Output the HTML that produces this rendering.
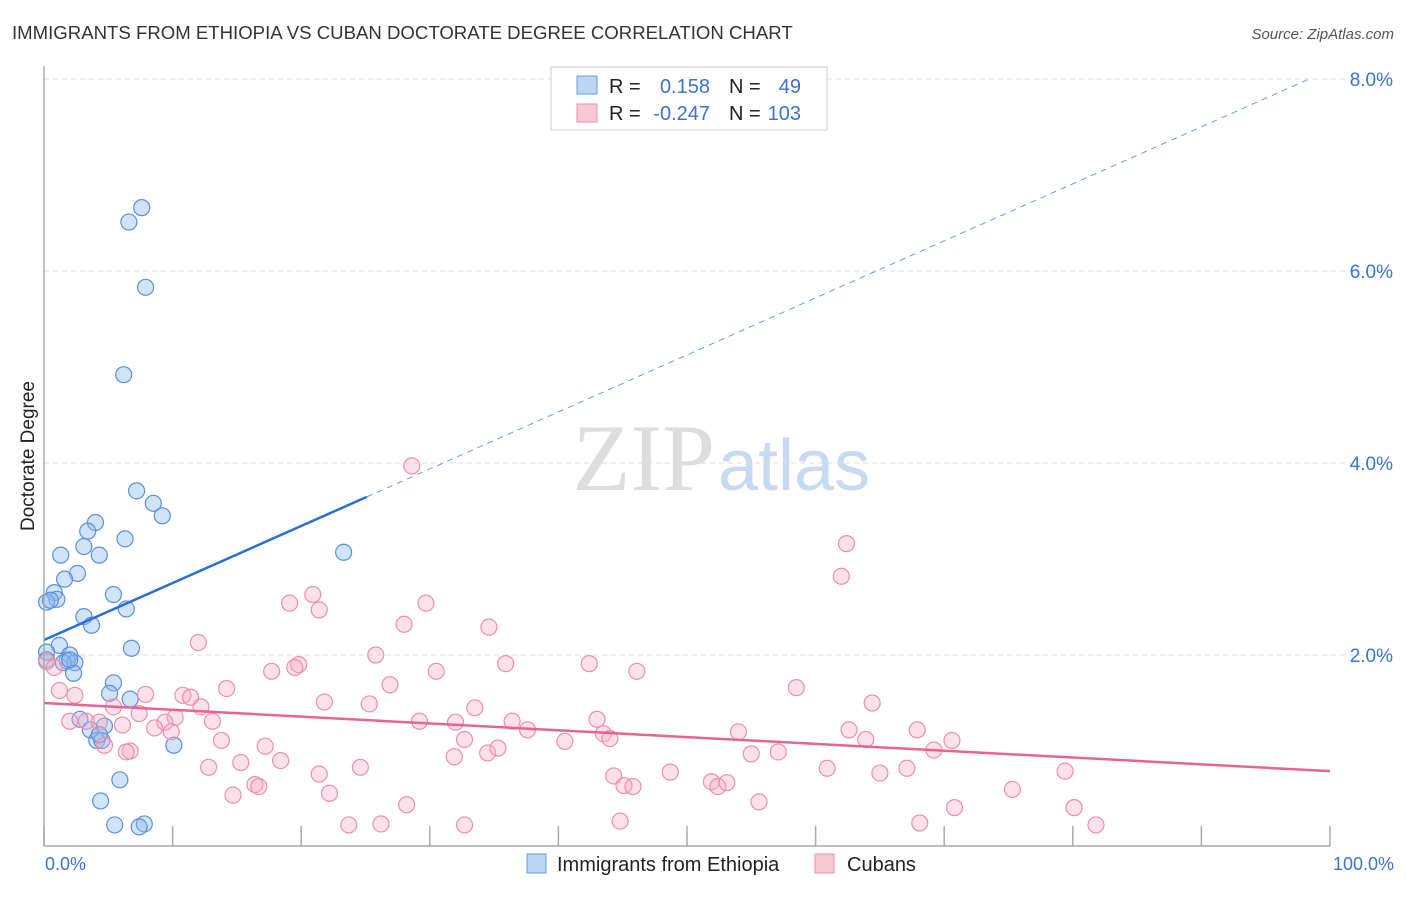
<!DOCTYPE html>
<html><head><meta charset="utf-8"><style>
body{margin:0;background:#fff;font-family:"Liberation Sans",sans-serif;}
</style></head><body>
<svg width="1406" height="892" xmlns="http://www.w3.org/2000/svg" id="svg">
<text x="12" y="39" font-size="18.6" fill="#333">IMMIGRANTS FROM ETHIOPIA VS CUBAN DOCTORATE DEGREE CORRELATION CHART</text>
<text x="1394" y="39" font-size="15" fill="#555" font-style="italic" text-anchor="end">Source: ZipAtlas.com</text>
<text x="34" y="456" font-size="19" fill="#222" text-anchor="middle" transform="rotate(-90 34 456)">Doctorate Degree</text>
<text x="715" y="490" font-size="95" fill="#ddd" text-anchor="end" font-family="Liberation Serif">ZIP</text>
<text x="718" y="490" font-size="72" fill="#c8daf2">atlas</text>
<g id="grid"></g><g id="pts"></g><g id="lines"></g>
<line x1="44" y1="66" x2="44" y2="846" stroke="#aaa" stroke-width="1.5"/>
<line x1="44" y1="846" x2="1330" y2="846" stroke="#aaa" stroke-width="1.5"/>
<text x="45" y="870" font-size="18" fill="#3a73d0">0.0%</text>
<text x="1394" y="870" font-size="18" fill="#3a73d0" text-anchor="end">100.0%</text>
<g>
<rect x="551" y="67" width="276" height="63" fill="#fff" stroke="#ccc"/>
<rect x="577" y="76" width="20" height="18" fill="#bcd5f5" stroke="#6a9be0"/>
<rect x="577" y="104" width="20" height="18" fill="#f9c8d6" stroke="#ec8faa"/>
<text x="609" y="93" font-size="20" fill="#222">R =</text>
<text x="710" y="93" font-size="20" fill="#3a73d0" text-anchor="end">0.158</text>
<text x="729" y="93" font-size="20" fill="#222">N =</text>
<text x="801" y="93" font-size="20" fill="#3a73d0" text-anchor="end">49</text>
<text x="609" y="120" font-size="20" fill="#222">R =</text>
<text x="710" y="120" font-size="20" fill="#3a73d0" text-anchor="end">-0.247</text>
<text x="729" y="120" font-size="20" fill="#222">N =</text>
<text x="801" y="120" font-size="20" fill="#3a73d0" text-anchor="end">103</text>
</g>
<g>
<rect x="527" y="854" width="19" height="19" fill="#bcd5f5" stroke="#6a9be0"/>
<text x="557" y="871" font-size="20" fill="#222">Immigrants from Ethiopia</text>
<rect x="815" y="854" width="19" height="19" fill="#f9c8d6" stroke="#ec8faa"/>
<text x="847" y="871" font-size="20" fill="#222">Cubans</text>
</g>
</svg>
<script>
const yTicks=[2,4,6,8];
const xTickPcts=[0,10,20,30,40,50,60,70,80,90,100];
const ethX=[7.6,6.6,7.9,6.2,7.2,8.5,9.2,4,3.4,6.3,3.1,1.3,4.3,2.6,1.6,0.8,1,0.2,5.4,6.4,3.1,3.7,1.2,6.8,0.2,2,1.8,2.4,1.5,2.3,5.4,5.1,6.7,2.8,3.6,4.7,4.1,4.5,10.1,5.9,4.4,5.5,7.8,7.4,23.3,0.2,0.5,2,4.3];
const ethY=[6.66,6.51,5.83,4.92,3.71,3.58,3.45,3.38,3.29,3.21,3.13,3.04,3.04,2.85,2.79,2.65,2.58,2.55,2.63,2.48,2.4,2.31,2.1,2.07,2.03,2,1.94,1.92,1.92,1.81,1.71,1.6,1.54,1.33,1.22,1.26,1.11,1.11,1.06,0.7,0.48,0.23,0.24,0.21,3.07,1.95,2.57,1.95,1.17];
const cubX=[28.6,62.4,62,20.9,19.1,29.7,21.4,34.6,28,12,25.8,35.9,42.4,0.2,0.8,19.8,17.7,19.5,30.5,46.1,26.9,58.5,14.2,1.2,2.4,10.8,11.4,7.9,21.8,64.4,25.3,12.2,5.4,7.4,10.2,29.2,13.1,2,3.3,4.3,32,36.4,43,9.4,33.5,37.6,62.6,67.9,8.6,43.5,44,54,63.9,70.6,13.8,6.1,9.9,32.7,17.2,40.5,69.2,4.7,6.7,34.5,35.3,6.4,55,57.1,31.9,12.8,15.3,18.4,24.6,44.3,48.7,21.4,60.9,65,67.1,79.4,51.9,52.4,53.1,45.1,45.8,16.4,16.7,14.7,22.2,75.3,28.2,55.6,70.8,80.1,44.8,23.7,26.2,68.1,81.8,32.7];
const cubY=[3.97,3.16,2.82,2.63,2.54,2.54,2.47,2.29,2.32,2.13,2.0,1.91,1.91,1.93,1.87,1.9,1.83,1.87,1.83,1.83,1.69,1.66,1.65,1.63,1.58,1.58,1.56,1.59,1.51,1.5,1.49,1.46,1.46,1.39,1.35,1.31,1.31,1.31,1.31,1.3,1.3,1.31,1.33,1.3,1.45,1.22,1.22,1.22,1.24,1.18,1.13,1.2,1.12,1.11,1.11,1.27,1.2,1.12,1.05,1.1,1.01,1.06,1.0,0.98,1.03,0.99,0.97,0.99,0.94,0.83,0.88,0.9,0.83,0.74,0.78,0.76,0.82,0.77,0.82,0.79,0.68,0.63,0.67,0.64,0.63,0.65,0.63,0.54,0.56,0.6,0.44,0.47,0.41,0.41,0.27,0.23,0.24,0.25,0.23,0.23];
const ethLine=[2.156,0.0594]; // intercept, slope per pct
const cubLine=[1.5,-0.0071];
const ns="http://www.w3.org/2000/svg";
const X=p=>44+p*12.86, Y=v=>847-v*96;
function mk(tag,attrs,parent){const e=document.createElementNS(ns,tag);for(const k in attrs)e.setAttribute(k,attrs[k]);document.getElementById(parent).appendChild(e);return e;}
yTicks.forEach(t=>{
 const l=mk('line',{x1:44,x2:1394,y1:Y(t),y2:Y(t),stroke:'#ddd','stroke-dasharray':'5,4'},'grid');
 
 
 const tx=mk('text',{x:1393,y:Y(t)+7,'font-size':19,fill:'#3a73d0','text-anchor':'end'},'grid');
 tx.textContent=t.toFixed(1)+'%';
 
 
});
xTickPcts.forEach(p=>{
 const l=mk('line',{x1:X(p),x2:X(p),y1:826,y2:846,stroke:'#aaa','stroke-width':1.5},'grid');
 
 
});
ethX.forEach((x,i)=>{
 const c=mk('circle',{cx:X(x),cy:Y(ethY[i]),r:8,fill:'rgba(140,185,240,0.4)',stroke:'#5b8fd8','stroke-width':1.2},'pts');
 
 
});
cubX.forEach((x,i)=>{
 const c=mk('circle',{cx:X(x),cy:Y(cubY[i]),r:8,fill:'rgba(245,170,195,0.35)',stroke:'#ec8faa','stroke-width':1.2},'pts');
 
 
});
const f=(L,p)=>L[0]+L[1]*p;
let l1=mk('line',{x1:X(0),y1:Y(f(ethLine,0)),x2:X(25.1),y2:Y(f(ethLine,25.1)),stroke:'#2a6fd6','stroke-width':2.5},'lines');


let l2=mk('line',{x1:X(25.1),y1:Y(f(ethLine,25.1)),x2:X(98.4),y2:Y(f(ethLine,98.4)),stroke:'#6b9be0','stroke-width':1,'stroke-dasharray':'6,5'},'lines');


let l3=mk('line',{x1:X(0),y1:Y(f(cubLine,0)),x2:X(100),y2:Y(f(cubLine,100)),stroke:'#e8648e','stroke-width':2.5},'lines');


</script>
</body></html>
